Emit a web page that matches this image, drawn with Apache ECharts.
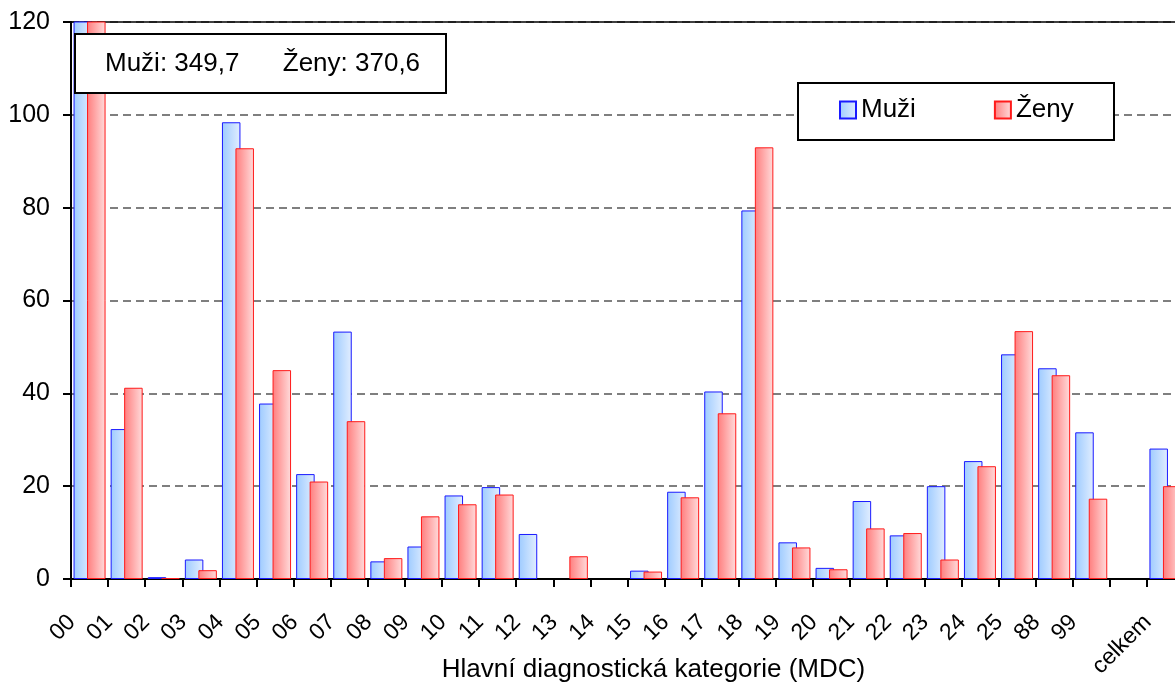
<!DOCTYPE html>
<html>
<head>
<meta charset="utf-8">
<script src="https://cdn.jsdelivr.net/npm/echarts@6/dist/echarts.min.js"></script>
<style>
html,body{margin:0;padding:0;background:#fff;}
#chart{width:1175px;height:686px;}
</style>
</head>
<body>
<div id="chart"></div>
<script>
var categories = ['00','01','02','03','04','05','06','07','08','09','10','11','12','13','14','15','16','17','18','19','20','21','22','23','24','25','88','99','','celkem'];
var muzi = [349.7, 32.3, 0.4, 4.2, 98.4, 37.8, 22.6, 53.3, 3.8, 7.0, 18.0, 19.8, 9.7, 0, 0, 1.8, 18.8, 40.4, 79.4, 7.9, 2.4, 16.8, 9.4, 20.0, 25.4, 48.4, 45.4, 31.6, null, 28.1];
var zeny = [370.6, 41.2, 0.2, 1.9, 92.8, 45.0, 21.0, 34.0, 4.5, 13.5, 16.1, 18.2, 0, 4.9, 0, 1.6, 17.6, 35.7, 93.0, 6.8, 2.1, 10.9, 9.9, 4.2, 24.3, 53.4, 43.9, 17.3, null, 20.0];
var seriesNames = ['Muži', 'Ženy'];
var yTicks = [0, 20, 40, 60, 80, 100, 120];
var axisName = 'Hlavní diagnostická kategorie (MDC)';

var FONT = 'Liberation Sans, Arial, sans-serif';
function fmt(v){ return v.toFixed(1).replace('.', ','); }
var noteText = seriesNames[0] + ': ' + fmt(muzi[0]) + '      ' + seriesNames[1] + ': ' + fmt(zeny[0]);
// zero values: keep the value but draw no outline on the axis
function toData(arr){
  return arr.map(function(v){ return v === 0 ? {value: 0, itemStyle: {borderWidth: 0}} : v; });
}

var chart = echarts.init(document.getElementById('chart'), null, {renderer: 'canvas'});
var blueGrad = new echarts.graphic.LinearGradient(0, 0, 1, 0, [
  {offset: 0, color: '#9ecbff'}, {offset: 1, color: '#e2eeff'}]);
var redGrad = new echarts.graphic.LinearGradient(0, 0, 1, 0, [
  {offset: 0, color: '#ff7d7d'}, {offset: 1, color: '#ffdcdc'}]);

var GL = 71, GT = 22, GB = 107;
chart.setOption({
  animation: false,
  backgroundColor: '#fff',
  textStyle: {fontFamily: FONT},
  grid: {left: GL, right: -9, top: GT, bottom: GB, containLabel: false, outerBoundsMode: 'none', show: false},
  legend: {
    data: seriesNames,
    left: 839, top: 97, padding: 0,
    itemGap: 78, itemWidth: 16, itemHeight: 17,
    icon: 'rect',
    textStyle: {fontSize: 26, color: '#000', fontFamily: FONT},
    z: 101
  },
  xAxis: {
    type: 'category',
    data: categories,
    boundaryGap: true,
    name: axisName,
    nameLocation: 'middle',
    nameGap: 78,
    nameMoveOverlap: false,
    nameTextStyle: {fontSize: 26, color: '#000', fontFamily: FONT, padding: [0, 0, 0, 52]},
    axisLine: {lineStyle: {color: '#000', width: 2}},
    axisTick: {show: true, length: 8, lineStyle: {color: '#000', width: 2}},
    axisLabel: {interval: 0, rotate: 45, margin: 22, padding: [0, 25, 0, 0], fontSize: 23, color: '#000', fontFamily: FONT},
    splitLine: {show: false}
  },
  yAxis: {
    type: 'value',
    min: yTicks[0], max: yTicks[yTicks.length - 1], interval: 20,
    axisLine: {show: true, lineStyle: {color: '#000', width: 2}},
    axisTick: {show: true, length: 8, lineStyle: {color: '#000', width: 2}},
    axisLabel: {margin: 21, fontSize: 25, color: '#000', fontFamily: FONT},
    splitLine: {show: true, lineStyle: {color: '#555', width: 1.5, type: [8, 5]}}
  },
  series: [
    {
      name: seriesNames[0], type: 'bar', data: toData(muzi),
      barWidth: 18.5, barGap: '-27%',
      itemStyle: {color: blueGrad, borderColor: '#1a1aff', borderWidth: 1}
    },
    {
      name: seriesNames[1], type: 'bar', data: toData(zeny),
      barWidth: 18.5, barGap: '-27%',
      itemStyle: {color: redGrad, borderColor: '#ff1a1a', borderWidth: 1}
    }
  ],
  graphic: [
    {type: 'line', z: 1, shape: {x1: GL, y1: GT, x2: 1175, y2: GT},
     style: {stroke: '#000', lineWidth: 1.5}},
    {type: 'rect', z: 100, shape: {x: 75, y: 34, width: 371, height: 59},
     style: {fill: '#fff', stroke: '#000', lineWidth: 2}},
    {type: 'text', z: 101, x: 105, y: 63.5,
     style: {text: noteText, fontSize: 26, fontFamily: FONT, fill: '#000', verticalAlign: 'middle', textAlign: 'left'}},
    {type: 'rect', z: 100, shape: {x: 798, y: 83, width: 316, height: 57},
     style: {fill: '#fff', stroke: '#000', lineWidth: 2}}
  ]
});
</script>
</body>
</html>
